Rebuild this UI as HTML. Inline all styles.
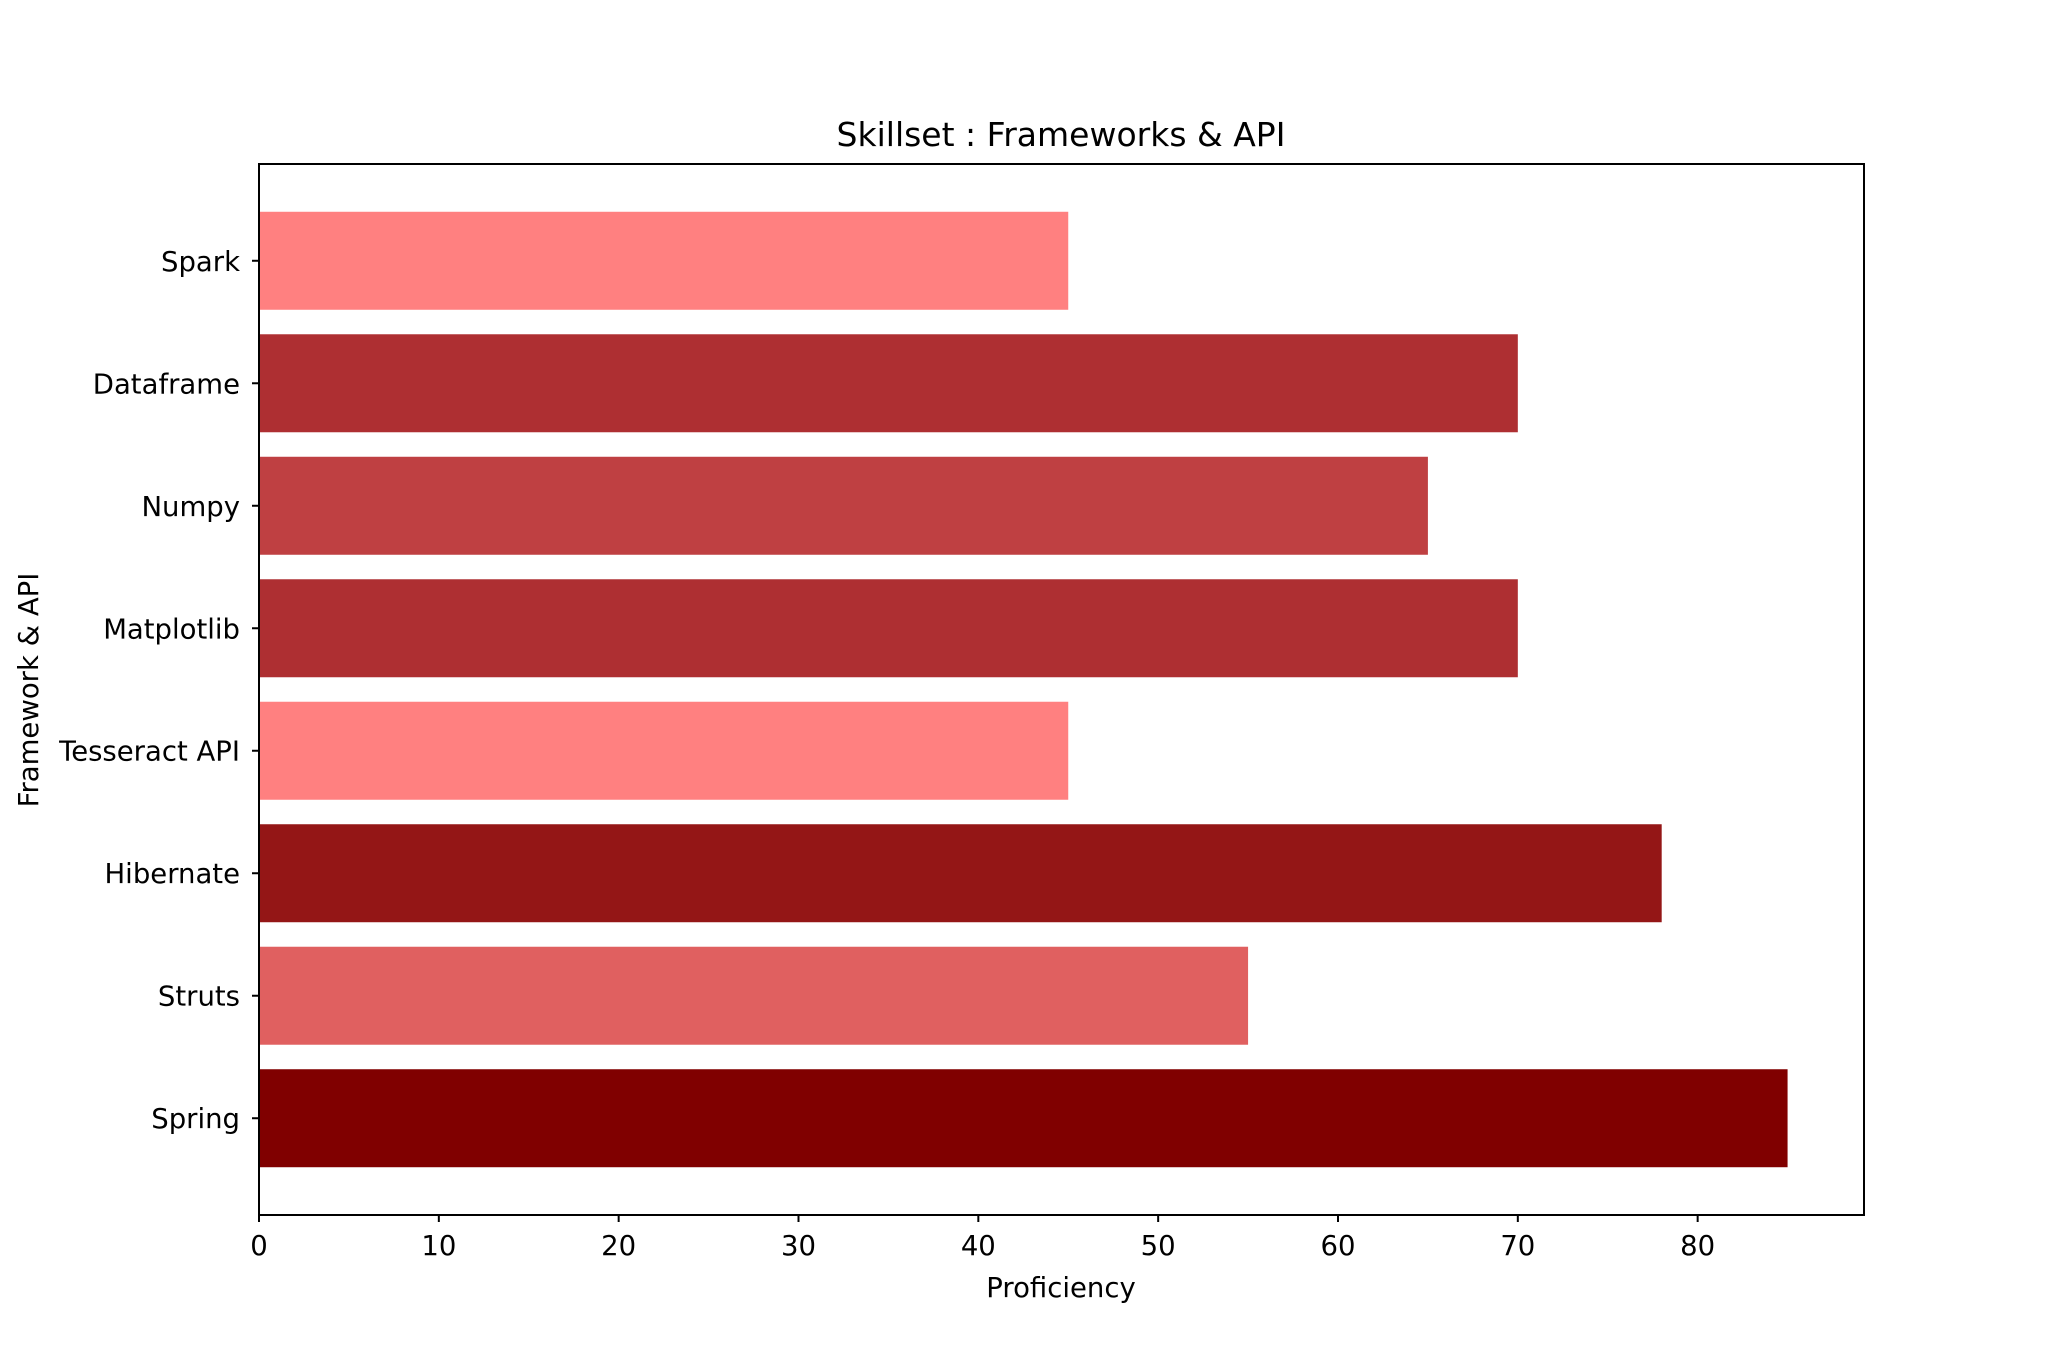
<!DOCTYPE html>
<html><head><meta charset="utf-8"><style>
html,body{margin:0;padding:0;background:#fff;}
svg{display:block;font-family:"DejaVu Sans","Liberation Sans",sans-serif;}
</style></head><body>
<svg id="chart" width="2072" height="1366" viewBox="0 0 2072 1366">
<rect width="2072" height="1366" fill="#fff"/>
<g id="bars"></g>
<g id="xticks"></g>
<g id="yticks"></g>
<rect x="259" y="164" width="1605" height="1051" fill="none" stroke="#000" stroke-width="2"/>
<text x="1061" y="146" font-size="33" text-anchor="middle">Skillset : Frameworks &amp; API</text>
<text x="1061" y="1297" font-size="27.5" text-anchor="middle">Proficiency</text>
<text x="38" y="690" font-size="27.5" text-anchor="middle" transform="rotate(-90 38 690)">Framework &amp; API</text>
</svg>
<script>
const categories = ["Spring","Struts","Hibernate","Tesseract API","Matplotlib","Numpy","Dataframe","Spark"];
const values = [85,55,78,45,70,65,70,45];
const colors = ["#800000","#e06060","#941616","#ff8080","#ae2f32","#bf4042","#ae2f32","#ff8080"];
const xTicks = [0,10,20,30,40,50,60,70,80];

const L=259,R=1864,T=164,B=1215;
const xMax = Math.max(...values)*1.05;
const x = v => L + v/xMax*(R-L);
const yMin = -0.4 - 0.39, yMax = categories.length-1+0.4+0.39;
const y = i => B - (i - yMin)/(yMax - yMin)*(B-T);
const bandH = 0.8*(B-T)/(yMax-yMin);
const NS="http://www.w3.org/2000/svg";
const bars=document.getElementById('bars'), xt=document.getElementById('xticks'), yt=document.getElementById('yticks');
function mk(tag, attrs){const e=document.createElementNS(NS,tag);for(const k in attrs)e.setAttribute(k,attrs[k]);return e;}
values.forEach((v,i)=>{
  const r=mk('rect',{x:x(0),y:y(i)-bandH/2,width:x(v)-x(0),height:bandH,fill:colors[i]});
  
  
  bars.appendChild(r);
  const tk=mk('line',{x1:L,x2:L-7,y1:y(i),y2:y(i),stroke:'#000','stroke-width':2});
  
  
  yt.appendChild(tk);
  const t=mk('text',{x:L-19,y:y(i)+10,'font-size':27.5,'text-anchor':'end'});
  t.textContent=categories[i];
  
  
  yt.appendChild(t);
});
xTicks.forEach(v=>{
  const tk=mk('line',{x1:x(v),x2:x(v),y1:B,y2:B+7,stroke:'#000','stroke-width':2});
  
  
  xt.appendChild(tk);
  const t=mk('text',{x:x(v),y:B+40,'font-size':27.5,'text-anchor':'middle'});
  t.textContent=v;
  
  
  xt.appendChild(t);
});
</script>
</body></html>
